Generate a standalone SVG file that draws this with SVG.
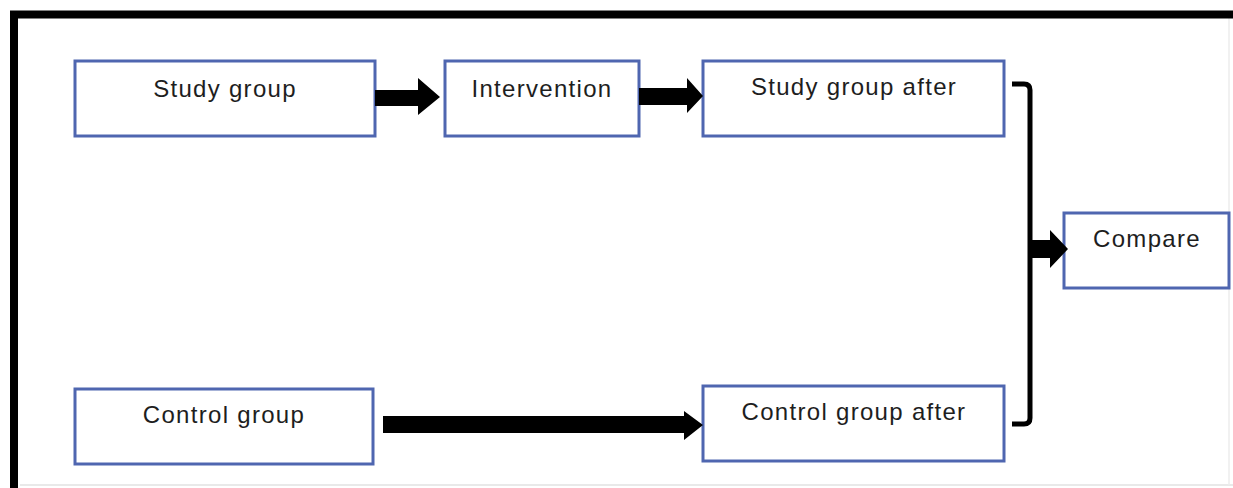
<svg xmlns="http://www.w3.org/2000/svg" width="1233" height="488" viewBox="0 0 1233 488">
  <style>
    .box { fill: #ffffff; stroke: #4f66b0; stroke-width: 3; }
    .label { font-family: "Liberation Sans", Arial, sans-serif; font-size: 24px; letter-spacing: 1.3px; fill: #1e1e1e; text-anchor: middle; }
    .arrow { fill: #000000; }
    .bracket { fill: none; stroke: #000000; stroke-width: 5; stroke-linejoin: round; }
  </style>

  <!-- page background and frame -->
  <rect x="0" y="0" width="1233" height="488" fill="#ffffff"/>
  <line x1="20" y1="485" x2="1233" y2="485" stroke="#e2e2e2" stroke-width="1.5"/>
  <line x1="1229" y1="18" x2="1229" y2="485" stroke="#ececec" stroke-width="1.5"/>
  <path d="M14 488 V14.5 H1233" fill="none" stroke="#000000" stroke-width="8"/>

  <g id="study-group">
    <rect class="box" x="75" y="61" width="300" height="75"/>
    <text class="label" x="225" y="97">Study group</text>
  </g>

  <g id="intervention">
    <rect class="box" x="445" y="61" width="194" height="75"/>
    <text class="label" x="542" y="97">Intervention</text>
  </g>

  <g id="study-group-after">
    <rect class="box" x="703" y="61" width="301" height="75"/>
    <text class="label" x="854" y="95">Study group after</text>
  </g>

  <g id="control-group">
    <rect class="box" x="75" y="389" width="298" height="75"/>
    <text class="label" x="224" y="423">Control group</text>
  </g>

  <g id="control-group-after">
    <rect class="box" x="703" y="386" width="301" height="75"/>
    <text class="label" x="854" y="420">Control group after</text>
  </g>

  <g id="compare">
    <rect class="box" x="1064" y="213" width="165" height="75"/>
    <text class="label" x="1147" y="247">Compare</text>
  </g>

  <g id="connectors">
    <!-- Study group to Intervention -->
    <path class="arrow" d="M375 90 H418 V78 L440 97 L418 115 V106 H375 Z"/>
    <!-- Intervention to Study group after -->
    <path class="arrow" d="M639 88 H687 V78 L703 96 L687 113 V105 H639 Z"/>
    <!-- Control group to Control group after -->
    <path class="arrow" d="M383 416 H684 V411 L703 425 L684 440 V433 H383 Z"/>
    <!-- bracket joining both outcome groups -->
    <path class="bracket" d="M1012 84 H1024 Q1030 84 1030 90 V418 Q1030 424 1024 424 H1012"/>
    <!-- bracket to Compare -->
    <path class="arrow" d="M1030 240 H1050 V230 L1068 249 L1050 268 V258 H1030 Z"/>
  </g>
</svg>
